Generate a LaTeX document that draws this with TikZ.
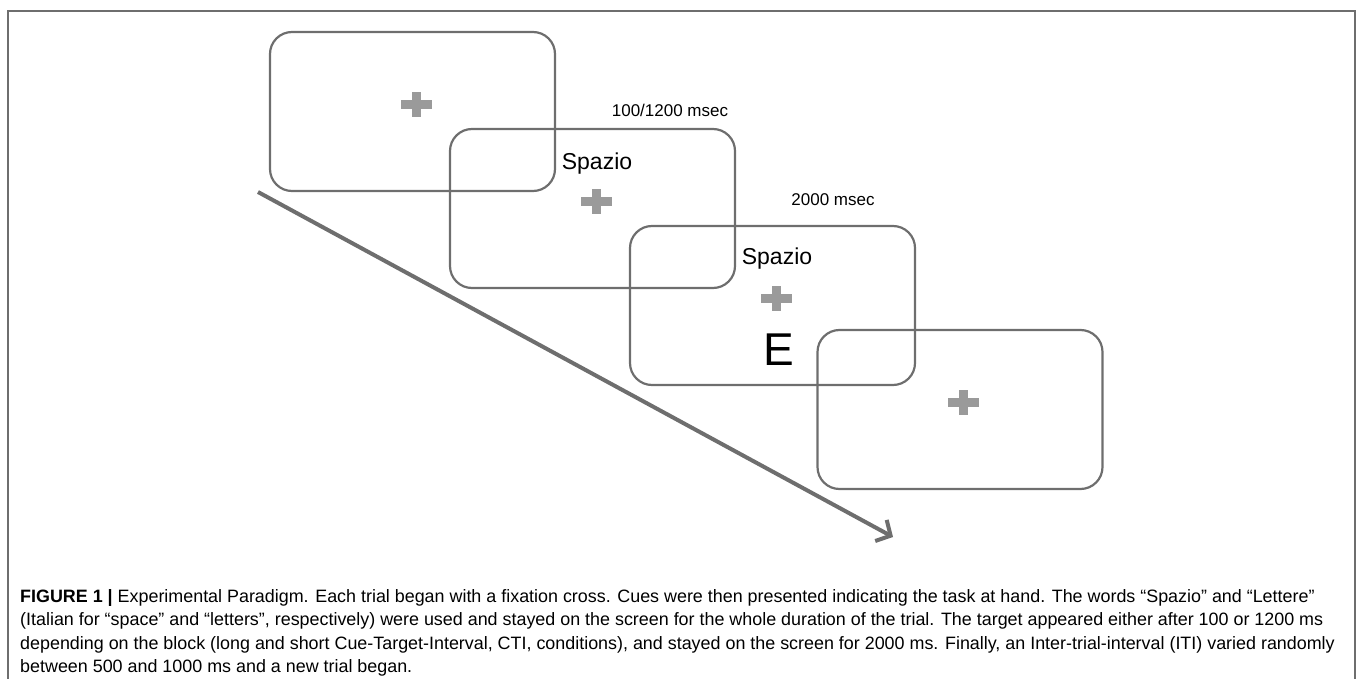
\documentclass[tikz,border=0pt]{standalone}
\usepackage{fontspec}
\setmainfont{Liberation Sans}
\usetikzlibrary{arrows.meta}

\definecolor{framegray}{HTML}{6E6E6E}
\definecolor{crossgray}{HTML}{9A9A9A}

% fixation cross = two filled bars
\newcommand{\fixcross}[2]{%
  \node[crossh] (#1h) at (#2) {};
  \node[crossv] (#1v) at (#2) {};}

\begin{document}
\begin{tikzpicture}[x=1pt, y=-1pt,
  screen/.style = {draw=framegray, line width=2.2pt, rounded corners=22pt,
                   minimum width=285pt, minimum height=159pt, inner sep=0pt},
  crossh/.style = {fill=crossgray, inner sep=0pt, minimum width=31pt, minimum height=9pt},
  crossv/.style = {fill=crossgray, inner sep=0pt, minimum width=9pt, minimum height=25pt},
  cue/.style = {font=\fontsize{23}{23}\selectfont, inner sep=0pt},
  dur/.style = {font=\fontsize{17}{17}\selectfont, inner sep=0pt},
  timeline/.style = {draw=framegray, line width=4pt, -{Straight Barb[length=11pt,width=24pt]}}]
  \useasboundingbox (0,0) rectangle (1358,679);
  \draw[framegray, line width=2pt] (8,679) -- (8,11) -- (1355,11) -- (1355,679);

  % screens
  \node[screen] (scr1) at (412.5,111.5) {};
  \node[screen] (scr2) at (592.5,208.5) {};
  \node[screen] (scr3) at (772.5,305.5) {};
  \node[screen] (scr4) at (960,409.5) {};

  \fixcross{fx1}{416,104.5}
  \fixcross{fx2}{596,201.5}
  \fixcross{fx3}{776.5,298.5}
  \fixcross{fx4}{963.5,402.5}

  \node[cue] (cue2) at (597,164) {Spazio};
  \node[cue] (cue3) at (777,259) {Spazio};
  \node[font=\fontsize{46}{46}\selectfont, inner sep=0pt] (tgt) at (779,350) {E};

  \node[dur] (dur1) at (670,110) {100/1200 msec};
  \node[dur] (dur2) at (833,200) {2000 msec};

  % time arrow
  \coordinate (t0) at (258,192);
  \coordinate (t1) at (893,537);
  \draw[timeline] (t0) -- (t1);

  \node[anchor=north west, inner sep=0pt, align=left,
        font=\fontsize{17.9}{23.6}\selectfont] (cap) at (20,589)
  {\textbf{FIGURE 1 |} Experimental Paradigm. Each trial began with a fixation cross. Cues were then presented indicating the task at hand. The words “Spazio” and “Lettere”\\
   (Italian for “space” and “letters”, respectively) were used and stayed on the screen for the whole duration of the trial. The target appeared either after 100 or 1200 ms\\
   depending on the block (long and short Cue-Target-Interval, CTI, conditions), and stayed on the screen for 2000 ms. Finally, an Inter-trial-interval (ITI) varied randomly\\
   between 500 and 1000 ms and a new trial began.};
\end{tikzpicture}
\end{document}
